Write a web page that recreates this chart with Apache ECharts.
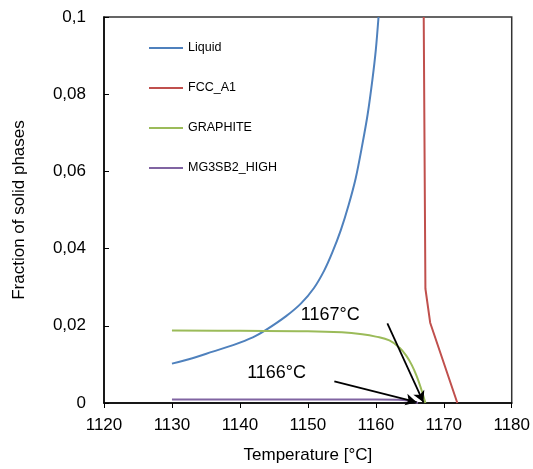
<!DOCTYPE html>
<html><head><meta charset="utf-8">
<script src="https://cdn.jsdelivr.net/npm/echarts@6/dist/echarts.min.js"></script>
<style>html,body{margin:0;padding:0;background:#fff}#c{width:533px;height:469px}</style>
</head><body><div id="c"></div>
<script>
const seriesNames = ['Liquid', 'FCC_A1', 'GRAPHITE', 'MG3SB2_HIGH'];
const xTicks = [1120, 1130, 1140, 1150, 1160, 1170, 1180];
const liquid = [[1130,0.0102],[1133,0.0116],[1136,0.0133],[1139,0.0150],[1141.9,0.0170],[1143.9,0.0190],[1146.8,0.0225],[1149.0,0.0258],[1150.9,0.0298],[1152.4,0.0343],[1153.6,0.0390],[1154.85,0.0448],[1156.0,0.0513],[1157.05,0.0583],[1158.0,0.0668],[1158.8,0.0748],[1159.5,0.0838],[1160.0,0.0915],[1160.4,0.1]];
const fcc = [[1167.05,0.1],[1167.3,0.0296],[1168.0,0.0208],[1172.0,0]];
const graphite = [[1130,0.0188],[1140,0.0187],[1150,0.0186],[1155,0.0183],[1158,0.0178],[1160,0.0172],[1162,0.0162],[1163.5,0.0143],[1164.5,0.0122],[1165.3,0.0098],[1166,0.007],[1166.7,0.0035],[1167.3,0]];
const mg3sb2 = [[1130,0.0009],[1160,0.0009],[1164,0.0008],[1165.5,0.0004],[1166.2,0]];
const annotations = [
  {text:'1167°C', label:[1153.3,0.0228], from:[1161.7,0.0206], to:[1167.0,0.0002]},
  {text:'1166°C', label:[1145.4,0.0078], from:[1153.9,0.0056], to:[1166.0,0.0002]}
];
const colors = ['#4f81bd','#c0504d','#9bbb59','#8064a2'];
const FONT = 'Liberation Sans, Arial, sans-serif';
const chart = echarts.init(document.getElementById('c'));
const mk = (name, data, i, smooth) => ({name, type:'line', data, symbol:'none', smooth,
  lineStyle:{width:2, color:colors[i]}, itemStyle:{color:colors[i]}, z:3});
chart.setOption({
  animation:false,
  grid:{left:104, right:20, top:17, bottom:64, show:true, borderColor:'#333', borderWidth:1.5},
  legend:{orient:'vertical', left:144, top:36, itemGap:26, itemWidth:34, itemHeight:2, icon:'rect',
    data:seriesNames, textStyle:{fontFamily:FONT, fontSize:12.5, color:'#000', lineHeight:14}},
  xAxis:{type:'value', min:xTicks[0], max:xTicks[xTicks.length-1], interval:10,
    name:'Temperature [°C]', nameLocation:'middle', nameGap:44,
    nameTextStyle:{fontFamily:FONT, fontSize:17, color:'#000'},
    axisLine:{lineStyle:{color:'#000', width:1.5}},
    axisTick:{inside:false, length:5, lineStyle:{color:'#000'}},
    axisLabel:{fontFamily:FONT, fontSize:17, color:'#000', margin:14, formatter:v => String(v)},
    splitLine:{show:false}},
  yAxis:{type:'value', min:0, max:0.1, interval:0.02,
    name:'Fraction of solid phases', nameLocation:'middle', nameGap:76,
    nameTextStyle:{fontFamily:FONT, fontSize:17, color:'#000'},
    axisLine:{show:true, lineStyle:{color:'#000', width:1.5}},
    axisTick:{show:true, inside:true, length:5, lineStyle:{color:'#000'}},
    axisLabel:{fontFamily:FONT, fontSize:17, color:'#000', margin:18,
      formatter:v => String(+v.toFixed(2)).replace('.', ',')},
    splitLine:{show:false}},
  series:[
    mk(seriesNames[0], liquid, 0, 0.3),
    mk(seriesNames[1], fcc, 1, false),
    mk(seriesNames[2], graphite, 2, 0.4),
    mk(seriesNames[3], mg3sb2, 3, 0.3),
    {name:'annot', type:'line', data:[], silent:true,
      markLine:{silent:true, symbol:['none','arrow'], symbolSize:[9,11],
        lineStyle:{color:'#000', width:1.8, type:'solid'}, label:{show:false},
        data:annotations.map(a => [{coord:a.from}, {coord:a.to}])},
      markPoint:{silent:true, symbol:'circle', symbolSize:0,
        label:{show:true, position:'inside', fontFamily:FONT, fontSize:18, color:'#000', formatter:p => p.name},
        data:annotations.map(a => ({name:a.text, coord:a.label}))}}
  ]
});
</script></body></html>
